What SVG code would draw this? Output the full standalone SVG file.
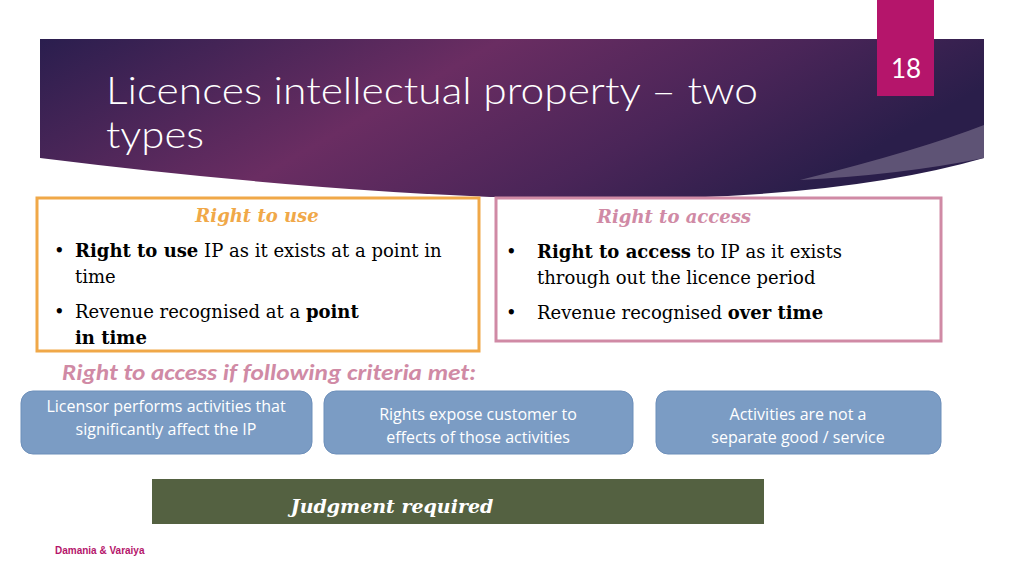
<svg xmlns="http://www.w3.org/2000/svg" width="1024" height="576" viewBox="0 0 1024 576">
<defs>
<linearGradient id="hg" x1="0" y1="0" x2="1" y2="0.3">
<stop offset="0" stop-color="#2a1e4e"/>
<stop offset="0.45" stop-color="#6a2d62"/>
<stop offset="0.75" stop-color="#4a2558"/>
<stop offset="1" stop-color="#2a1e4a"/>
</linearGradient>
<style>
.b{font-family:"DejaVu Serif",serif;font-size:18px;fill:#000}
.c{font-family:"Open Sans","Liberation Sans",sans-serif;font-size:16px;fill:#fff;text-anchor:middle}
.box{fill:#7b9cc4;stroke:#6d8fba;stroke-width:1}
</style>
</defs>
<rect width="1024" height="576" fill="#fff"/>
<g id="header">
<path d="M40 39 H984 V158 Q700 240 40 158 Z" fill="url(#hg)"/>
<path d="M800 180 Q920 150 984 125 V158 Q900 175 800 180Z" fill="#6b6080" opacity="0.8"/>
<text x="106" y="104" font-family="Lato,'Liberation Sans',sans-serif" font-size="38" fill="#fff" font-weight="300" textLength="652" lengthAdjust="spacingAndGlyphs">Licences intellectual property – two</text>
<text x="106" y="148" font-family="Lato,'Liberation Sans',sans-serif" font-size="38" fill="#fff" font-weight="300" textLength="98" lengthAdjust="spacingAndGlyphs">types</text>
</g>
<g id="pagenum">
<rect x="877" y="0" width="57" height="96" fill="#b5156b"/>
<text x="906" y="78" font-family="Lato,'Liberation Sans',sans-serif" font-size="26" fill="#fff" text-anchor="middle">18</text>
</g>
<g id="use">
<rect x="37" y="198" width="442" height="153" fill="#fff" stroke="#f0a848" stroke-width="3"/>
<text x="257" y="222" class="b" text-anchor="middle" font-weight="bold" font-style="italic" style="fill:#f0a848">Right to use</text>
<text x="54" y="257" class="b">• <tspan x="75" font-weight="bold">Right to use</tspan> IP as it exists at a  point in</text>
<text x="75" y="283" class="b">time</text>
<text x="54" y="318" class="b">• <tspan x="75">Revenue recognised at a </tspan><tspan font-weight="bold">point</tspan></text>
<text x="75" y="344" class="b" font-weight="bold">in time</text>
</g>
<g id="access">
<rect x="496" y="198" width="445" height="143" fill="#fff" stroke="#d08aa5" stroke-width="3"/>
<text x="674" y="223" class="b" text-anchor="middle" font-weight="bold" font-style="italic" style="fill:#d08aa5">Right to access</text>
<text x="506" y="258" class="b">• <tspan x="537" font-weight="bold">Right to access</tspan> to IP as it  exists</text>
<text x="537" y="284" class="b">through out the licence  period</text>
<text x="506" y="319" class="b">• <tspan x="537">Revenue recognised </tspan><tspan font-weight="bold">over time</tspan></text>
</g>
<text x="62" y="380" font-family="Calibri,'Carlito','Open Sans',sans-serif" font-size="22" font-weight="bold" font-style="italic" fill="#d08aa5" textLength="414" lengthAdjust="spacingAndGlyphs">Right to access if following criteria met:</text>
<g id="c1"><rect class="box" x="21" y="391" width="291" height="63" rx="12"/>
<text class="c" x="166" y="412">Licensor performs activities  that</text>
<text class="c" x="166" y="435">significantly affect the  IP</text></g>
<g id="c2"><rect class="box" x="324" y="391" width="309" height="63" rx="12"/>
<text class="c" x="478" y="420">Rights expose customer to</text>
<text class="c" x="478" y="443">effects of those activities</text></g>
<g id="c3"><rect class="box" x="656" y="391" width="285" height="63" rx="12"/>
<text class="c" x="798" y="420">Activities are not a</text>
<text class="c" x="798" y="443">separate good / service</text></g>
<g id="judg">
<rect x="152" y="479" width="612" height="45" fill="#546141"/>
<text x="392" y="513" font-family="'DejaVu Serif',serif" font-size="19" font-weight="bold" font-style="italic" fill="#fff" text-anchor="middle">Judgment required</text>
</g>
<text x="55" y="554" font-family="'Liberation Sans',sans-serif" font-size="10" font-weight="bold" fill="#b5156b">Damania &amp; Varaiya</text>
</svg>
